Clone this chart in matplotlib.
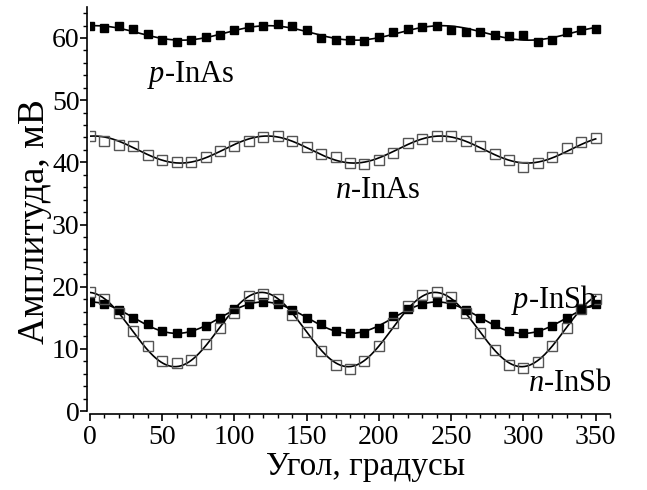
import numpy as np
import matplotlib
matplotlib.use("Agg")
import matplotlib.pyplot as plt
from matplotlib.ticker import MultipleLocator

plt.rcParams["font.family"] = ["Liberation Serif", "DejaVu Serif"]
plt.rcParams["mathtext.fontset"] = "custom"
plt.rcParams["mathtext.rm"] = "Liberation Serif"
plt.rcParams["mathtext.it"] = "Liberation Serif:italic"

# angle, degrees
angle = np.arange(0, 360, 10)

p_inas = [61.9, 61.6, 62.0, 61.5, 60.7, 59.6, 59.4, 59.6, 60.1, 60.5,
          61.2, 61.7, 62.0, 62.2, 61.9, 61.2, 60.0, 59.7, 59.6, 59.5,
          60.1, 61.0, 61.5, 61.7, 62.0, 61.2, 61.0, 60.9, 60.5, 60.3,
          60.4, 59.4, 59.6, 60.9, 61.2, 61.5]
n_inas = [44.3, 43.4, 42.8, 42.6, 41.2, 40.3, 40.1, 40.1, 40.9, 41.8,
          42.7, 43.5, 44.1, 44.2, 43.4, 42.5, 41.3, 40.8, 39.9, 39.7,
          40.4, 41.5, 43.1, 43.8, 44.2, 44.3, 43.5, 42.7, 41.3, 40.3,
          39.3, 39.9, 40.8, 42.3, 43.2, 43.9]
p_insb = [17.6, 17.2, 16.2, 14.9, 14.0, 12.9, 12.5, 12.8, 13.7, 14.9,
          16.4, 17.2, 17.6, 17.2, 16.2, 14.9, 14.0, 12.9, 12.6, 12.6,
          13.4, 15.3, 16.4, 17.2, 17.6, 17.2, 16.2, 14.9, 14.0, 12.9,
          12.5, 12.8, 13.7, 14.9, 16.4, 17.2]
n_insb = [19.1, 18.1, 15.8, 12.9, 10.4, 8.1, 7.7, 8.2, 10.8, 13.4,
          15.7, 18.5, 18.8, 18.1, 15.5, 12.8, 9.7, 7.4, 6.7, 8.1,
          10.5, 14.1, 16.9, 18.7, 19.2, 18.4, 15.7, 12.6, 9.8, 7.4,
          7.0, 7.9, 10.4, 13.3, 16.4, 18.1]


def fit_curve(x, y, xs):
    # least-squares fit with the third angular harmonic
    t = np.radians(x)
    A = np.column_stack([np.ones_like(t), np.cos(3 * t), np.sin(3 * t)])
    c, *_ = np.linalg.lstsq(A, np.asarray(y), rcond=None)
    ts = np.radians(xs)
    return c[0] + c[1] * np.cos(3 * ts) + c[2] * np.sin(3 * ts)


fig = plt.figure(figsize=(6.47, 4.9), dpi=100)
ax = fig.add_axes([0.139, 0.161, 0.804, 0.825])

xs = np.linspace(0, 350, 400)
for y, filled in [(p_inas, True), (n_inas, False), (p_insb, True), (n_insb, False)]:
    ax.plot(xs, fit_curve(angle, y, xs), color="black", lw=1.2, zorder=2)
    if filled:
        ax.plot(angle, y, "s", ms=6.0, mfc="black", mec="black", zorder=3)
    else:
        ax.plot(angle, y, "s", ms=6.5, mfc="none", mec="#555555", mew=1.0, zorder=3)

ax.text(70, 54.1, r"$p$-InAs", fontsize=22, ha="center", va="center")
ax.text(199, 35.4, r"$n$-InAs", fontsize=22, ha="center", va="center")
ax.text(321, 17.9, r"$p$-InSb", fontsize=22, ha="center", va="center")
ax.text(332, 4.4, r"$n$-InSb", fontsize=22, ha="center", va="center")

ax.set_xlim(0, 360)
ax.set_ylim(0, 65)
ax.xaxis.set_major_locator(MultipleLocator(50))
ax.xaxis.set_minor_locator(MultipleLocator(10))
ax.yaxis.set_major_locator(MultipleLocator(10))
ax.yaxis.set_minor_locator(MultipleLocator(2))
ax.set_xticks(np.arange(0, 351, 50))

for side in ("top", "right"):
    ax.spines[side].set_visible(False)
ax.spines["left"].set_position(("outward", 2))
ax.spines["bottom"].set_position(("outward", 2))
ax.spines["left"].set_linewidth(1.2)
ax.spines["bottom"].set_linewidth(1.2)
ax.tick_params(which="major", length=5, width=1.2, labelsize=20)
ax.tick_params(axis="x", which="major", pad=3)
ax.tick_params(axis="y", which="major", pad=0.5)
ax.tick_params(which="minor", length=3, width=1.0)

ax.set_xlabel("Угол, градусы", fontsize=24, labelpad=1)
ax.set_ylabel("Амплитуда, мВ", fontsize=27, labelpad=0)
ax.xaxis.label.set_x(0.53)
ax.yaxis.label.set_y(0.47)

fig.savefig("out.png", dpi=100)
